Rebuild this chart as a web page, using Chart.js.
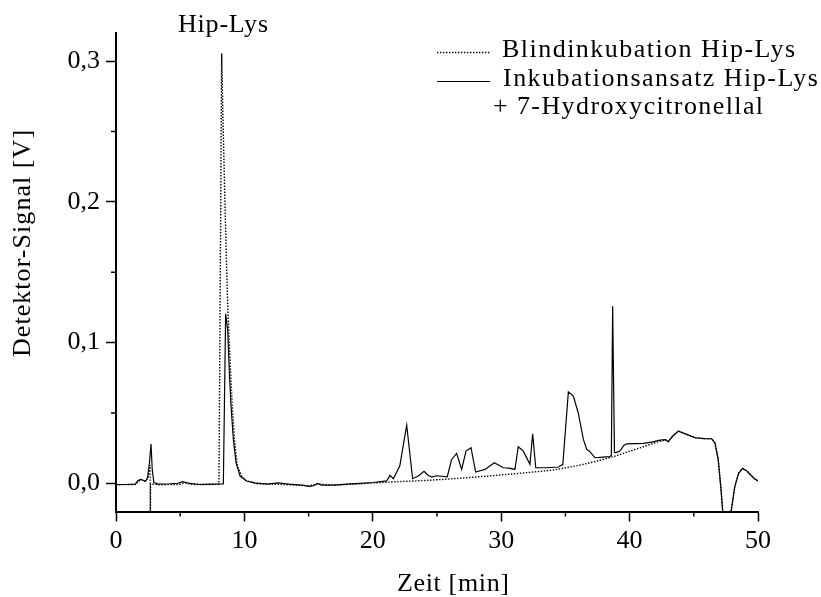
<!DOCTYPE html>
<html><head><meta charset="utf-8">
<script src="https://cdn.jsdelivr.net/npm/chart.js@4/dist/chart.umd.min.js"></script>
<style>html,body{margin:0;padding:0;background:#fff}canvas{display:block}</style>
</head><body>
<canvas id="c" width="821" height="597"></canvas>
<script>
// ---- data ----
const sampleTime = [0,0.8,1.5,1.7,1.9,2.1,2.3,2.45,2.6,2.73,2.82,2.95,3.3,4.2,4.8,5.2,5.6,6.5,7.4,8.36,
  8.54,8.70,8.83,8.96,9.14,9.35,9.66,10.17,10.8,11.8,12.6,13.5,14.5,15.1,15.45,15.7,16.0,17,18,19,20,
  21.08,21.34,21.6,22.1,22.64,23.1,23.54,23.99,24.3,24.59,24.98,25.8,26.14,26.53,26.92,27.26,27.65,28.01,
  28.74,29.46,30.17,30.6,31.07,31.33,31.72,32.24,32.45,32.69,33.54,34.45,34.8,35.23,35.62,36.0,36.4,36.66,
  36.87,37.3,37.95,38.47,38.58,38.68,38.82,38.94,39.25,39.55,39.77,41.07,41.8,42.37,42.8,43.0,43.4,43.8,
  44.4,45.1,45.8,46.4,46.65,46.9,47.12,47.25,47.55,47.9,48.2,48.5,48.8,49.1,49.4,49.7,50.0];
const sampleSignal = [-0.0008,-0.0008,-0.0005,0.0018,0.0028,0.0022,0.0015,0.004,0.014,0.028,0.01,0.0005,-0.0005,-0.0003,0.0,0.0012,0.0002,-0.0008,-0.0006,-0.0004,
  0.1205,0.109,0.0785,0.0548,0.0312,0.0147,0.0052,0.0017,0.0003,-0.0005,0.0003,-0.0006,-0.0012,-0.0022,-0.0015,0.0,-0.0012,-0.0012,-0.0006,0.0,0.0006,
  0.0017,0.0057,0.0033,0.0123,0.0414,0.0033,0.0052,0.0085,0.0058,0.0045,0.0054,0.0047,0.017,0.0213,0.0099,0.0229,0.0253,0.008,
  0.0099,0.0147,0.0111,0.0108,0.0099,0.026,0.0229,0.0135,0.0352,0.0111,0.0111,0.0116,0.0135,0.065,0.062,0.050,0.0312,0.0241,
  0.0229,0.0182,0.0187,0.019,0.02,0.1258,0.022,0.0218,0.0229,0.027,0.0281,0.0284,0.0295,0.0307,0.031,0.0296,0.034,0.0371,
  0.035,0.0324,0.0318,0.0317,0.0286,0.017,-0.0043,-0.0197,-0.045,-0.02,-0.002,0.0073,0.0106,0.009,0.0063,0.0035,0.0017];
const blankTime = [0,1.5,1.75,2.0,2.3,2.5,2.66,2.67,2.69,3.5,5.0,5.3,6.0,7.5,8.02,8.23,8.31,8.49,8.70,8.93,9.06,
  9.22,9.45,9.79,10.17,11,13,15.0,15.7,17,19,20,22,24,26,28,30,32,34,35,36,37,38,39,40,41,42,42.8,43.0,43.4,
  43.8,44.4,45.1,45.8,46.4,46.65,46.9,47.12,47.25,47.55,47.9,48.2,48.5,48.8,49.1,49.4,49.7,50.0];
const blankSignal = [-0.001,-0.0008,0.0015,0.0025,0.0015,0.004,0.013,-0.06,-0.0005,-0.001,-0.0008,0.0005,-0.0008,-0.0008,-0.0007,0.3054,0.2676,0.1967,0.1258,0.0785,0.0548,
  0.0312,0.0123,0.0052,0.0017,-0.0003,-0.0008,-0.0018,-0.0005,-0.0012,-0.0003,0.0003,0.0012,0.002,0.0031,0.0045,0.006,0.0076,0.0094,0.011,0.0127,0.0148,0.0171,0.0197,0.0228,0.0258,0.029,0.0308,0.0296,0.034,
  0.0371,0.035,0.0324,0.0318,0.0317,0.0286,0.017,-0.0043,-0.0197,-0.045,-0.02,-0.002,0.0073,0.0106,0.009,0.0063,0.0035,0.0017];
const xMajorTicks = [0,10,20,30,40,50];
const xMinorTicks = [5,15,25,35,45];
const yMajorTicks = [0,0.1,0.2,0.3];
const yMinorTicks = [0.05,0.15,0.25];
const seriesLabels = ['Blindinkubation Hip-Lys','Inkubationsansatz Hip-Lys','+ 7-Hydroxycitronellal'];
const peakLabel = 'Hip-Lys';
const xTitle = 'Zeit [min]';
const yTitle = 'Detektor-Signal [V]';

const FONT = "'Liberation Serif', 'Times New Roman', serif";
const toPts = (xs, ys) => xs.map((x, i) => ({x: x, y: ys[i]}));

function fitText(ctx, text, x, y, width) {
  ctx.letterSpacing = '0px';
  const w = ctx.measureText(text).width;
  const ls = (width - w) / Math.max(1, text.length - 1);
  ctx.letterSpacing = ls.toFixed(2) + 'px';
  ctx.textAlign = 'left';
  ctx.fillText(text, x, y);
  ctx.letterSpacing = '0px';
}

const decor = {
  id: 'decor',
  afterDraw(chart) {
    const ctx = chart.ctx;
    const xs = chart.scales.x, ys = chart.scales.y;
    ctx.save();
    // minor ticks
    ctx.strokeStyle = '#000';
    ctx.lineWidth = 1.5;
    ctx.beginPath();
    xMinorTicks.forEach(v => { const p = xs.getPixelForValue(v); ctx.moveTo(p, ys.bottom); ctx.lineTo(p, ys.bottom + 5); });
    yMinorTicks.forEach(v => { const p = ys.getPixelForValue(v); ctx.moveTo(xs.left - 5, p); ctx.lineTo(xs.left, p); });
    ctx.stroke();
    // text
    ctx.fillStyle = '#000';
    ctx.font = '26px ' + FONT;
    ctx.textBaseline = 'alphabetic';
    fitText(ctx, peakLabel, 178, 32, 90);
    fitText(ctx, xTitle, 397, 591, 112);
    ctx.save();
    ctx.translate(30, 357);
    ctx.rotate(-Math.PI / 2);
    fitText(ctx, yTitle, 0, 0, 227);
    ctx.restore();
    // legend
    fitText(ctx, seriesLabels[0], 502, 57, 293);
    fitText(ctx, seriesLabels[1], 503, 85.5, 315);
    fitText(ctx, seriesLabels[2], 493, 114, 270);
    ctx.lineWidth = 1.4;
    ctx.setLineDash([1.4, 1.6]);
    ctx.beginPath(); ctx.moveTo(437, 52.5); ctx.lineTo(490, 52.5); ctx.stroke();
    ctx.setLineDash([]);
    ctx.lineWidth = 1.2;
    ctx.beginPath(); ctx.moveTo(437, 81.5); ctx.lineTo(490, 81.5); ctx.stroke();
    ctx.restore();
  }
};

new Chart(document.getElementById('c'), {
  type: 'line',
  data: {
    datasets: [
      { label: seriesLabels[0], data: toPts(blankTime, blankSignal), borderColor: '#000', borderWidth: 1.4,
        borderDash: [1.4, 1.6], pointRadius: 0, tension: 0, fill: false, order: 1 },
      { label: seriesLabels[1] + ' ' + seriesLabels[2], data: toPts(sampleTime, sampleSignal), borderColor: '#000',
        borderWidth: 1.2, pointRadius: 0, tension: 0, fill: false, order: 0 }
    ]
  },
  options: {
    responsive: false,
    animation: false,
    devicePixelRatio: 1,
    layout: { padding: { top: 33, right: 63, left: 0, bottom: 0 } },
    plugins: { legend: { display: false }, tooltip: { enabled: false } },
    scales: {
      x: {
        type: 'linear', min: 0, max: 50,
        afterFit: s => { s.height = 85.5; },
        afterBuildTicks: s => { s.ticks = xMajorTicks.map(v => ({value: v})); },
        grid: { display: true, drawOnChartArea: false, drawTicks: true, tickLength: 10, tickWidth: 1.5, tickColor: '#000', color: '#000' },
        border: { display: true, color: '#000', width: 2 },
        ticks: { color: '#000', padding: 4, maxRotation: 0, autoSkip: false,
          font: { family: FONT, size: 26, lineHeight: 1.2 }, callback: v => String(v) }
      },
      y: {
        type: 'linear', min: -0.02, max: 0.32,
        afterFit: s => { s.width = 116; },
        afterBuildTicks: s => { s.ticks = yMajorTicks.map(v => ({value: v})); },
        grid: { display: true, drawOnChartArea: false, drawTicks: true, tickLength: 10, tickWidth: 1.5, tickColor: '#000', color: '#000' },
        border: { display: true, color: '#000', width: 2 },
        ticks: { color: '#000', padding: 6, autoSkip: false,
          font: { family: FONT, size: 26 }, callback: v => v.toFixed(1).replace('.', ',') }
      }
    }
  },
  plugins: [decor]
});
</script>
</body></html>
